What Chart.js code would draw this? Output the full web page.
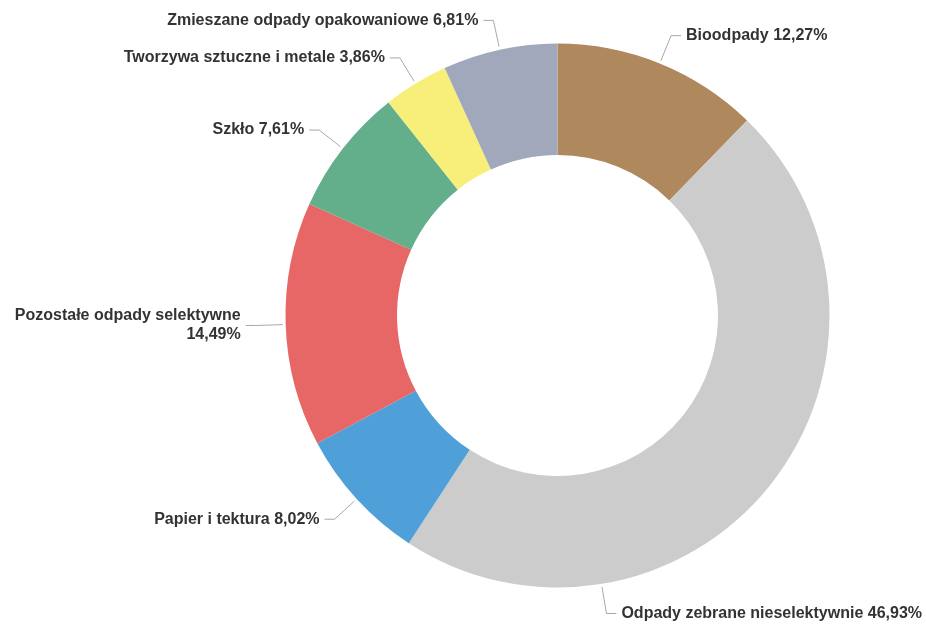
<!DOCTYPE html>
<html>
<head>
<meta charset="utf-8">
<script src="https://cdn.jsdelivr.net/npm/chart.js@4"></script>
<style>
  html, body { margin: 0; padding: 0; background: #fff; }
</style>
</head>
<body>
<canvas id="chart" width="926" height="630"></canvas>
<script>
const categories = ['Bioodpady', 'Odpady zebrane nieselektywnie', 'Papier i tektura', 'Pozostałe odpady selektywne', 'Szkło', 'Tworzywa sztuczne i metale', 'Zmieszane odpady opakowaniowe'];
const shares = [12.27, 46.93, 8.02, 14.49, 7.61, 3.86, 6.81];
const colors = ['#B0885D', '#CCCCCC', '#4FA0D8', '#E66766', '#63AE8B', '#F8EE7A', '#A2A8BB'];

const labelFont = 'bold 16px "Liberation Sans", Arial, sans-serif';

function fmt(v) {
  return v.toFixed(2).replace('.', ',') + '%';
}

// break a label into lines no wider than maxW
function wrap(ctx, text, maxW) {
  const words = text.split(' ');
  const lines = [];
  let cur = '';
  words.forEach(w => {
    const test = cur ? cur + ' ' + w : w;
    if (cur && ctx.measureText(test).width > maxW) {
      lines.push(cur);
      cur = w;
    } else {
      cur = test;
    }
  });
  if (cur) lines.push(cur);
  return lines;
}

const pieLabels = {
  id: 'pieLabels',
  afterDraw(chart) {
    const ctx = chart.ctx;
    const meta = chart.getDatasetMeta(0);
    const W = chart.width;
    ctx.save();
    ctx.font = labelFont;
    meta.data.forEach((arc, i) => {
      const p = arc.getProps(['x', 'y', 'outerRadius', 'startAngle', 'endAngle'], true);
      const cx = p.x, cy = p.y, r = p.outerRadius;
      const mid = (p.startAngle + p.endAngle) / 2;
      const R = r + 30;
      let ex = cx + Math.cos(mid) * R;
      let ey = cy + Math.sin(mid) * R;
      const right = ex >= cx;
      const text = categories[i] + ' ' + fmt(shares[i]);
      let lines = [text];
      const tw = ctx.measureText(text).width;
      if (right && ex + 15 + tw > W - 4) {
        // slide along the label circle until the text fits
        ex = W - 4 - 15 - tw;
        const dx = ex - cx;
        ey = cy + Math.sign(ey - cy) * Math.sqrt(Math.max(R * R - dx * dx, 0));
      }
      if (!right && ex - 15 - tw < 4) {
        lines = wrap(ctx, text, ex - 15 - 4);
      }
      const ang = Math.atan2(ey - cy, ex - cx);
      const sx = cx + Math.cos(ang) * (r + 3);
      const sy = cy + Math.sin(ang) * (r + 3);
      const hx = right ? ex + 10 : ex - 10;

      ctx.strokeStyle = '#A8A8A8';
      ctx.lineWidth = 1;
      ctx.beginPath();
      ctx.moveTo(sx, sy);
      ctx.lineTo(ex, ey);
      ctx.lineTo(hx, ey);
      ctx.stroke();

      ctx.fillStyle = '#333333';
      ctx.textAlign = right ? 'left' : 'right';
      ctx.textBaseline = 'middle';
      const lh = 19;
      const tx = right ? hx + 5 : hx - 5;
      lines.forEach((ln, k) => {
        ctx.fillText(ln, tx, ey + (k - (lines.length - 1) / 2) * lh);
      });
    });
    ctx.restore();
  }
};

new Chart(document.getElementById('chart'), {
  type: 'doughnut',
  data: {
    labels: categories,
    datasets: [
      {
        data: shares,
        backgroundColor: colors,
        borderWidth: 0,
        hoverOffset: 0
      }
    ]
  },
  options: {
    responsive: false,
    animation: false,
    radius: 272,
    cutout: '59%',
    layout: {
      padding: { left: 189, right: 0, top: 1, bottom: 0 }
    },
    plugins: {
      legend: { display: false },
      tooltip: { enabled: false }
    }
  },
  plugins: [pieLabels]
});
</script>
</body>
</html>
